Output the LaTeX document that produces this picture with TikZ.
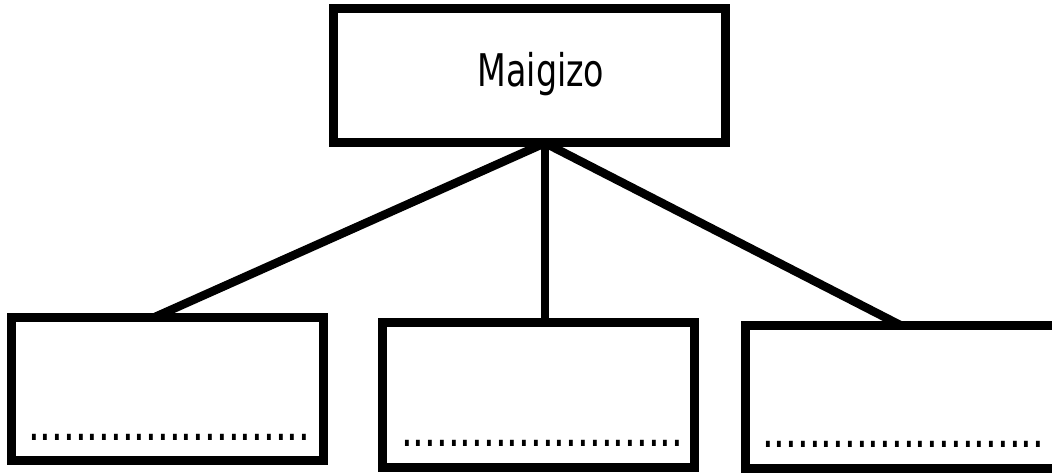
\documentclass[tikz,border=0pt]{standalone}
\usepackage{fontspec}
\setmainfont{DejaVu Sans}
\usepackage{graphicx}
\newcommand\sqz[1]{\scalebox{0.74}[1]{#1}}
\begin{document}
\begin{tikzpicture}[x=1pt,y=-1pt,
  boxx/.style={draw=black,line width=9pt,fill=white,inner sep=0pt,outer sep=0pt},
  conn/.style={draw=black,line width=8.5pt},
  lbl/.style={inner sep=0pt,outer sep=0pt,font=\fontsize{45}{54}\selectfont},
  dotl/.style={inner sep=0pt,outer sep=0pt,font=\fontsize{50}{60}\selectfont,anchor=base west}]
\useasboundingbox (0,0) rectangle (1052,473);
\clip (0,0) rectangle (1052,473);
\coordinate (hub) at (545,143);
\coordinate (e1) at (155,317);
\coordinate (e2) at (545,322);
\coordinate (e3) at (900,325);
\draw[conn] (hub) -- (e1);
\draw[conn] (hub) -- (e2);
\draw[conn] (hub) -- (e3);
\node[boxx,minimum width=392pt,minimum height=133.5pt] (top) at (529,75.5) {};
\node[boxx,minimum width=311.5pt,minimum height=143.5pt] (b1) at (167.25,388.75) {};
\node[boxx,minimum width=312pt,minimum height=145pt] (b2) at (538.5,395) {};
\node[boxx,minimum width=312pt,minimum height=143pt] (b3) at (901.5,396.5) {};
\node[lbl,anchor=base] (t0) at (541,86.5) {\sqz{Maigizo}};
\node[dotl] (d1) at (28,440) {\sqz{........................}};
\node[dotl] (d2) at (401,446) {\sqz{........................}};
\node[dotl] (d3) at (762,447) {\sqz{........................}};
\end{tikzpicture}
\end{document}
